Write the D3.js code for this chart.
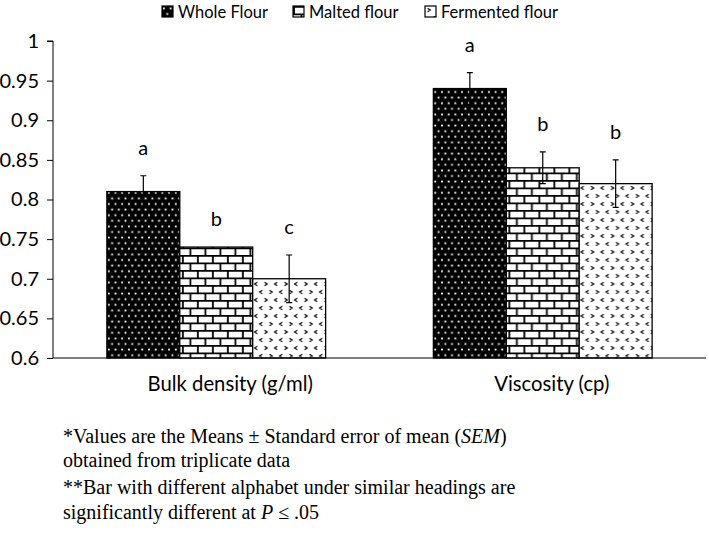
<!DOCTYPE html>
<html>
<head>
<meta charset="utf-8">
<script src="https://cdn.jsdelivr.net/npm/d3@7/dist/d3.min.js"></script>
<style>
  html, body { margin: 0; padding: 0; background: #fff; }
  svg { display: block; }
</style>
</head>
<body>
<svg id="chart" width="709" height="538"></svg>
<script>
// ---- data ----
const categories = ["Bulk density (g/ml)", "Viscosity (cp)"];
const seriesNames = ["Whole Flour", "Malted flour", "Fermented flour"];
const wholeFlour = [0.81, 0.94];
const wholeErr = [0.02, 0.02];
const maltedFlour = [0.74, 0.84];
const maltedErr = [0, 0.02];
const fermentedFlour = [0.70, 0.82];
const fermentedErr = [0.03, 0.03];
const wholeLetters = ["a", "a"];
const maltedLetters = ["b", "b"];
const fermentedLetters = ["c", "b"];
const yTicks = [0.6, 0.65, 0.7, 0.75, 0.8, 0.85, 0.9, 0.95, 1];
const footnotes = [
  [["*Values are the Means ± Standard error of mean (", false], ["SEM", true], [")", false]],
  [["obtained from triplicate data", false]],
  [["**Bar with different alphabet under similar headings are", false]],
  [["significantly different at ", false], ["P", true], [" ≤ .05", false]]
];

const seriesValues = [wholeFlour, maltedFlour, fermentedFlour];
const seriesErrs = [wholeErr, maltedErr, fermentedErr];
const seriesLetters = [wholeLetters, maltedLetters, fermentedLetters];
const patternIds = ["pWhole", "pMalted", "pFerm"];

const svg = d3.select("#chart");
const sansFont = "Lato, 'Open Sans', sans-serif";

// ---- patterns ----
const defs = svg.append("defs");
// dotted (black with white dots)
const p1 = defs.append("pattern").attr("id", "pWhole").attr("patternUnits", "userSpaceOnUse")
  .attr("width", 6.7).attr("height", 11.2);
p1.append("rect").attr("width", 6.7).attr("height", 11.2).attr("fill", "#000");
p1.append("rect").attr("x", 1).attr("y", 1.5).attr("width", 1.8).attr("height", 1.8).attr("fill", "#fff");
p1.append("rect").attr("x", 4.35).attr("y", 7.1).attr("width", 1.8).attr("height", 1.8).attr("fill", "#fff");
// brick
const p2 = defs.append("pattern").attr("id", "pMalted").attr("patternUnits", "userSpaceOnUse")
  .attr("width", 15).attr("height", 15);
p2.append("rect").attr("width", 15).attr("height", 15).attr("fill", "#fff");
p2.append("path").attr("d", "M0 0.8H15 M0 8.3H15 M1 0.8V8.3 M8.5 8.3V15.8 M8.5 -1V0.8")
  .attr("stroke", "#000").attr("stroke-width", 1.8).attr("fill", "none");
// chevrons
const p3 = defs.append("pattern").attr("id", "pFerm").attr("patternUnits", "userSpaceOnUse")
  .attr("width", 20).attr("height", 16);
p3.append("rect").attr("width", 20).attr("height", 16).attr("fill", "#fff");
const chev = (x, y, dir) => dir > 0
  ? `M${x - 1.4} ${y - 1.8}L${x + 1.3} ${y}L${x - 1.4} ${y + 1.8}`
  : `M${x + 1.4} ${y - 1.8}L${x - 1.3} ${y}L${x + 1.4} ${y + 1.8}`;
p3.append("path")
  .attr("d", chev(4, 4, 1) + chev(14, 4, -1) + chev(9, 12, -1) + chev(19, 12, 1) + chev(-1, 12, 1))
  .attr("stroke", "#111").attr("stroke-width", 1.3).attr("fill", "none");

// ---- scales ----
const x0 = d3.scaleBand().domain(categories).range([53, 706]).paddingInner(0.33).paddingOuter(0.165);
const x1 = d3.scaleBand().domain(seriesNames).range([0, x0.bandwidth()]).padding(0);
const y = d3.scaleLinear().domain([0.6, 1]).range([358, 41]);

// ---- y axis ----
const yAxis = svg.append("g").attr("transform", "translate(53,0)")
  .call(d3.axisLeft(y).tickValues(yTicks).tickSize(6).tickPadding(8)
    .tickFormat(d => String(+d.toFixed(2))));
yAxis.select(".domain").attr("stroke", "#000").attr("stroke-width", 1).attr("d", `M-6,${y(1)}H0V${y(0.6)}`);
yAxis.selectAll(".tick line").attr("stroke", "#000");
yAxis.selectAll("text").attr("font-family", sansFont).attr("font-size", 20).attr("fill", "#000");

// ---- bars ----
const groups = svg.append("g").selectAll("g").data(categories).join("g")
  .attr("transform", d => `translate(${x0(d)},0)`);

seriesNames.forEach((s, si) => {
  groups.append("rect")
    .attr("x", x1(s))
    .attr("y", (d, ci) => y(seriesValues[si][ci]))
    .attr("width", x1.bandwidth())
    .attr("height", (d, ci) => y(0.6) - y(seriesValues[si][ci]))
    .attr("fill", `url(#${patternIds[si]})`)
    .attr("stroke", "#000").attr("stroke-width", 1.3);
});

// error bars
seriesNames.forEach((s, si) => {
  groups.each(function (d, ci) {
    const e = seriesErrs[si][ci];
    if (!e) return;
    const v = seriesValues[si][ci];
    const cx = x1(s) + x1.bandwidth() / 2;
    d3.select(this).append("path")
      .attr("d", `M${cx - 3} ${y(v + e)}H${cx + 3}M${cx} ${y(v + e)}V${y(v - e)}M${cx - 3} ${y(v - e)}H${cx + 3}`)
      .attr("stroke", "#000").attr("stroke-width", 1.2).attr("fill", "none");
  });
});

// letters
seriesNames.forEach((s, si) => {
  groups.append("text")
    .attr("x", x1(s) + x1.bandwidth() / 2)
    .attr("y", (d, ci) => y(seriesValues[si][ci] + seriesErrs[si][ci]) - 21)
    .attr("text-anchor", "middle")
    .attr("font-family", sansFont).attr("font-size", 20).attr("fill", "#000")
    .text((d, ci) => seriesLetters[si][ci]);
});

// baseline
svg.append("line").attr("x1", 53).attr("x2", 706).attr("y1", y(0.6)).attr("y2", y(0.6))
  .attr("stroke", "#000").attr("stroke-width", 1);

// category labels
svg.append("g").selectAll("text").data(categories).join("text")
  .attr("x", (d, i) => x0(d) + x0.bandwidth() / 2 + (i === 0 ? 14 : 9))
  .attr("y", 391)
  .attr("text-anchor", "middle")
  .attr("font-family", sansFont).attr("font-size", 20.3).attr("fill", "#000")
  .text(d => d);

// ---- legend ----
const legendX = [162, 293, 425];
const leg = svg.append("g").selectAll("g").data(seriesNames).join("g")
  .attr("transform", (d, i) => `translate(${legendX[i]},6)`);
leg.append("rect").attr("width", 11).attr("height", 11)
  .attr("fill", (d, i) => `url(#${patternIds[i]})`)
  .attr("stroke", "#000").attr("stroke-width", 1.2);
leg.append("text").attr("x", 16).attr("y", 12)
  .attr("font-family", sansFont).attr("font-size", 16.5).attr("fill", "#000")
  .text(d => d);

// ---- footnotes ----
const fnY = [443, 467, 494, 519];
const fn = svg.append("g").selectAll("text").data(footnotes).join("text")
  .attr("x", 63).attr("y", (d, i) => fnY[i])
  .attr("font-family", "'Liberation Serif', 'Times New Roman', serif")
  .attr("font-size", 20).attr("fill", "#000");
fn.selectAll("tspan").data(d => d).join("tspan")
  .attr("font-style", d => d[1] ? "italic" : "normal")
  .text(d => d[0]);
</script>
</body>
</html>
